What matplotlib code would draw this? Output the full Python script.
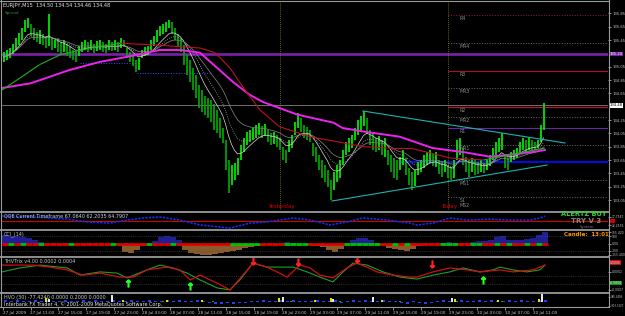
import numpy as np
import pandas as pd
import matplotlib
matplotlib.use('Agg')
import matplotlib.pyplot as plt
from matplotlib.lines import Line2D
from matplotlib.collections import LineCollection

W, H = 625, 316

# EURJPY M15 - bar highs / lows (one bar per 3px slot, from 27 Jul 07:00)
bar_high = [135.27, 135.30, 135.33, 135.39, 135.48, 135.56, 135.63, 135.75, 135.78, 135.69,
            135.63, 135.57, 135.60, 135.54, 135.51, 135.84, 135.48, 135.45, 135.48, 135.42,
            135.45, 135.39, 135.36, 135.30, 135.27, 135.36, 135.42, 135.45, 135.42, 135.45,
            135.39, 135.44, 135.45, 135.42, 135.39, 135.45, 135.42, 135.45, 135.42, 135.48,
            135.45, 135.33, 135.27, 135.21, 135.15, 135.18, 135.30, 135.35, 135.36, 135.45,
            135.51, 135.60, 135.66, 135.69, 135.72, 135.75, 135.72, 135.63, 135.54, 135.48,
            135.38, 135.23, 135.15, 135.03, 134.93, 134.78, 134.70, 134.61, 134.58, 134.55,
            134.49, 134.40, 134.28, 134.13, 133.95, 133.65, 133.58, 133.61, 133.68, 133.88,
            133.98, 134.07, 134.10, 134.13, 134.18, 134.21, 134.16, 134.19, 134.10, 134.06,
            134.07, 134.03, 133.98, 133.85, 133.80, 133.95, 134.03, 134.22, 134.36, 134.28,
            134.18, 134.15, 134.10, 133.91, 133.85, 133.73, 133.65, 133.58, 133.50, 133.35,
            133.47, 133.58, 133.65, 133.80, 133.92, 133.98, 134.03, 134.13, 134.25, 134.31,
            134.39, 134.28, 134.10, 134.06, 133.98, 134.01, 133.95, 133.98, 133.80, 133.73,
            133.68, 133.65, 133.70, 133.80, 133.68, 133.53, 133.47, 133.50, 133.62, 133.65,
            133.73, 133.77, 133.80, 133.74, 133.77, 133.65, 133.62, 133.65, 133.58, 133.55,
            133.65, 133.95, 133.98, 133.83, 133.70, 133.65, 133.68, 133.65, 133.62, 133.65,
            133.61, 133.65, 133.73, 133.83, 133.92, 133.98, 134.06, 133.73, 133.68, 133.77,
            133.80, 133.83, 133.92, 133.98, 133.95, 134.00, 133.95, 133.92, 133.95, 134.18,
            134.51]
bar_low = [135.12, 135.15, 135.18, 135.24, 135.30, 135.38, 135.45, 135.57, 135.63, 135.51,
           135.45, 135.42, 135.39, 135.38, 135.33, 135.36, 135.30, 135.33, 135.27, 135.23,
           135.27, 135.21, 135.18, 135.15, 135.12, 135.21, 135.27, 135.30, 135.27, 135.30,
           135.26, 135.29, 135.30, 135.27, 135.26, 135.30, 135.29, 135.30, 135.27, 135.33,
           135.35, 135.18, 135.12, 135.06, 134.97, 135.00, 135.18, 135.21, 135.23, 135.30,
           135.36, 135.42, 135.51, 135.54, 135.57, 135.63, 135.54, 135.45, 135.36, 135.27,
           135.08, 134.93, 134.82, 134.70, 134.58, 134.43, 134.37, 134.33, 134.28, 134.22,
           134.10, 134.06, 133.98, 133.91, 133.50, 133.16, 133.28, 133.35, 133.43, 133.65,
           133.77, 133.88, 133.92, 133.95, 133.98, 134.03, 133.98, 134.01, 133.92, 133.88,
           133.89, 133.85, 133.80, 133.65, 133.61, 133.77, 133.83, 134.03, 134.13, 134.07,
           133.98, 133.95, 133.92, 133.71, 133.62, 133.50, 133.38, 133.32, 133.25, 133.05,
           133.20, 133.32, 133.38, 133.58, 133.73, 133.77, 133.83, 133.95, 134.03, 134.10,
           134.16, 134.04, 133.88, 133.80, 133.77, 133.80, 133.73, 133.70, 133.58, 133.47,
           133.38, 133.35, 133.50, 133.58, 133.43, 133.28, 133.20, 133.26, 133.43, 133.47,
           133.53, 133.58, 133.61, 133.56, 133.55, 133.44, 133.40, 133.47, 133.38, 133.35,
           133.38, 133.65, 133.73, 133.58, 133.47, 133.40, 133.47, 133.43, 133.44, 133.47,
           133.46, 133.50, 133.56, 133.65, 133.73, 133.77, 133.80, 133.53, 133.50, 133.62,
           133.65, 133.68, 133.76, 133.80, 133.77, 133.80, 133.80, 133.80, 133.83, 133.92,
           134.10]

# slow MA (magenta) and slope coloured MA
ma_slow_idx = [-0.5, 9, 22, 32, 45, 52, 59, 65.5, 76.5, 82, 86.5, 98, 110, 113, 121, 132, 143, 154.5, 162, 169, 176.5, 180.5]
ma_slow = [134.73, 134.80, 135.00, 135.12, 135.23, 135.30, 135.30, 135.26, 134.82, 134.63, 134.52, 134.33,
           134.21, 134.13, 134.07, 134.00, 133.83, 133.76, 133.70, 133.73, 133.77, 133.80]
ma_mid_idx = [-0.5, 5.5, 12, 19, 29, 39, 49, 59, 65.5, 70.5, 75.5, 80.5, 85.5, 92, 102, 113, 120, 128, 135.5, 149, 160, 169, 180.5]
ma_mid = [134.70, 134.88, 135.08, 135.23, 135.33, 135.40, 135.38, 135.35, 135.33, 135.26, 135.03, 134.70,
          134.40, 134.15, 134.00, 133.91, 133.85, 133.83, 133.83, 133.68, 133.65, 133.73, 133.83]

# today's pivot levels
pivot_names = ['R4', 'MR4', 'R3', 'MR3', 'R2', 'MR2', 'R1', 'MR1', 'MS1', 'S1']
pivot_levels = [135.825, 135.405, 134.985, 134.73, 134.45, 134.295, 134.13, 133.875, 133.35, 133.095]
pivot_colors = ['#9a1545', '#6a6a6a', '#b01030', '#6a6a6a', '#c01030', '#6a6a6a', '#6a22a8', '#6a6a6a', '#6a6a6a', '#6a6a6a']
pivot_styles = [':', ':', '-', ':', '-', ':', '-', ':', ':', ':']
pivot_point = 133.62
hline_level = 135.24
last_price = 134.47

# triangle trendlines (bar index, price)
tri_upper = ([119.8, 187.2], [134.385, 133.905])
tri_lower = ([109.5, 181.2], [133.035, 133.575])

# QQE
qqe_idx = [-0.5, 9.8, 21.2, 27.8, 35.5, 41.2, 46.5, 52.2, 58.8, 65.5, 75.5, 82.2, 87.8, 96.5, 102.2,
           108.8, 114.5, 119.8, 127.8, 135.5, 137.8, 143.2, 148.8, 154.5, 162.2, 168.8, 175.5, 178.8, 180.5]
qqe = [81, 75, 62, 44, 37, 56, 69, 75, 56, 25, 6, 37, 44, 69, 56, 25, 44, 69, 56, 37, 25, 37, 69, 56, 62, 56, 56, 69, 81]

# CCI, one value per 2 bars, plus trend band colour
cci = [115, 100, 100, 90, 75, 50, 20,
       0, -10, 0, 10, 0, -20, 0, 10, 0, -10, 0, 0, -15,
       -115, -130, -90, -40, 0, 30, 90, 100, 90, 50,
       -90, -130, -140, -155, -155, -140, -130, -115, -100, -90,
       -60, -50, -35, -20, -10, 0, 10, 20, 10, 0, -10,
       -20, -30, -50, -90, -115, -75, -20, 50, 75, 75, 50, 10,
       -20, -60, -75, -90, -100, -75, -40, -20, -10, 0,
       10, 20, 10, 0, -10, 20, 30, 40, 50,
       90, 100, 50, 50, 50, 60, 75, 115, 155]
cci_trend = ''.join(['rgrgrrg', 'rrrrgrrrrrrgr', 'rrr', 'rgr', 'rrgr', 'rrrrr', 'rrrgg', 'ggg', 'rrrr',
                     'gggg', 'rrrrrr', 'gggggg', 'rr', 'grgr', 'rrrr', 'ggg', 'rr', 'gg', 'rr', 'grgrrgrgr'])

# THV Trix lines (units of 0.0001)
trix_red_idx = [-0.5, 9.8, 15.5, 21.2, 26.5, 32.2, 38.8, 43.2, 47.8, 54.5, 58.8, 62.2, 65.5, 71.2, 75.5,
                79.8, 83.2, 87.8, 91.2, 94.5, 98.8, 102.2, 105.5, 109.8, 114.5, 117.8, 121.2, 124.5, 129.8,
                135.5, 137.8, 143.2, 148.8, 154.5, 158.8, 165.5, 169.8, 176.5, 180.5]
trix_red = [5.2, 5.2, 4.2, 2.8, 0.2, 1.2, -0.8, -0.8, 2.8, 4.2, 2.8, -2.2, 0.2, -3.8, -7.2, 0.2, 6.2, 4.2,
            1.8, -0.8, 5.2, 3.8, 0.2, -1.2, 3.8, 6.2, 4.2, 1.8, 0.2, -0.8, -0.8, 1.8, 3.8, 2.8, 1.8, 2.8,
            1.8, 2.8, 5.2]
trix_green_idx = [-0.5, 5.5, 12.2, 21.2, 25.5, 32.2, 37.8, 41.2, 47.8, 52.2, 56.5, 61.2, 65.5, 71.2, 75.5,
                  78.8, 83.2, 87.8, 92.2, 96.5, 101.2, 105.5, 109.8, 113.2, 116.5, 121.2, 126.5, 132.2,
                  137.8, 143.2, 148.8, 153.2, 158.8, 163.2, 165.5, 169.8, 174.5, 178.8, 180.5]
trix_green = [1.8, 3.8, 5.2, 3.8, 0.2, 1.8, 1.2, -1.2, 2.8, 5.2, 3.8, 1.2, -2.2, -6.2, -7.2, -2.2, 6.2, 4.2,
              4.2, 4.2, 1.8, -0.8, -3.2, 1.8, 6.2, 5.2, 1.8, -0.8, -1.8, 0.2, 1.8, 3.8, 1.8, 2.8, 4.2, 2.8,
              1.8, 2.8, 5.2]
arrow_up_idx = [41.5, 62.2, 159.8]
arrow_up_val = [-3.6, -5.2, -2.2]
arrow_dn_idx = [83.2, 98.2, 117.8, 142.8]
arrow_dn_val = [7.4, 6.6, 8.2, 6.0]

# HVO histogram, one value per 2 bars, plus coloured spikes
hvo_blue = [150, 75, 150, 75, 75, 150, 75, 150, 75, 75, 150, 75, 75, 150, 75, 150, 75, 75, 150, 75,
            75, 150, 75, 75, 150, 75, 75, 150, 75, 150, 75, 75, 150, 75, -75, -150, -150, -75, -150, -75,
            -75, 75, 75, 150, 75, 75, 150, 75, 150, 75, 75, 75, 150, 75, 75, 150, -75, 75, 150, 75,
            150, 75, 75, 150, 75, 75, -75, -150, 75, -75, -150, -75, 75, 150, 75, 75, 150, 75, 75, 150,
            75, 150, 75, 75, 150, 75, 150, 75, 75, 150, 150]
spike_idx = [14.2, 15.2, 36.2, 39.8, 53.2, 54.5, 66.2, 69.8, 91.8, 93.2, 95.8, 103.8, 109.2, 109.8, 112.2,
             123.2, 126.2, 132.2, 149.5, 150.5, 151.2, 164.8, 166.2, 178.5, 179.5]
spike_val = [300, 225, 525, 150, 75, 150, 150, 75, 300, 375, 75, 150, 300, 225, 75,
             375, 150, 75, 300, 225, 75, 150, 75, 225, 600]
spike_col = ['y', 'w', 'w', 'y', 'g', 'y', 'y', 'g', 'y', 'w', 'g', 'y', 'y', 'w', 'g',
             'w', 'y', 'g', 'w', 'y', 'g', 'y', 'g', 'y', 'w']

time_labels = ['27 Jul 2009', '27 Jul 11:00', '27 Jul 15:00', '27 Jul 19:00', '27 Jul 23:00',
               '28 Jul 03:00', '28 Jul 07:00', '28 Jul 11:00', '28 Jul 15:00', '28 Jul 19:00',
               '28 Jul 23:00', '29 Jul 03:00', '29 Jul 07:00', '29 Jul 11:00', '29 Jul 15:00',
               '29 Jul 19:00', '29 Jul 23:00', '30 Jul 03:00', '30 Jul 07:00', '30 Jul 11:00']

yesterday_idx = 92.2
today_idx = 148.2

fig = plt.figure(figsize=(W / 100, H / 100), dpi=100, facecolor='black')
AXFS = 2.7  # right-hand scale font size
SUBFS = 2.15  # long sub-window scale labels


def panel(y0, y1):
    ax = fig.add_axes([2 / W, 1 - y1 / H, 606 / W, (y1 - y0) / H])
    ax.set_facecolor('black')
    for s in ax.spines.values():
        s.set_visible(False)
    ax.set_xlim(-0.5, 201.5)
    ax.set_xticks([])
    ax.yaxis.tick_right()
    ax.tick_params(axis='y', colors='#c8c8c8', labelsize=AXFS, length=2, width=0.5, pad=1)
    return ax


def ptext(x, y, s, **kw):
    kw.setdefault('color', '#d0d0d0')
    kw.setdefault('fontsize', 3.8)
    kw.setdefault('va', 'center')
    kw.setdefault('ha', 'left')
    fig.text(x / W, 1 - y / H, s, **kw)


def pline(xs, ys, **kw):
    fig.add_artist(Line2D([x / W for x in xs], [1 - y / H for y in ys], **kw))


def box(ax, yv, s, fc, tc='white', fs=AXFS):
    ax.text(1.003, yv, s, transform=ax.get_yaxis_transform(), color=tc, fontsize=fs,
            va='center', ha='left', bbox=dict(boxstyle='square,pad=0.12', fc=fc, ec='none'))


# ---------------- main price panel ----------------
ax = panel(2, 210)
ax.set_ylim(132.90, 136.02)
idx = np.arange(len(bar_high))
hi = np.array(bar_high)
lo = np.array(bar_low)
mid = (hi + lo) / 2

ax.axhline(hline_level, color='#7a22a8', lw=1.9, zorder=1)
ax.axhline(last_price, color='#808080', lw=0.6, zorder=1)
ax.hlines([135.11], 25.5, 43.8, color='#3050ff', lw=0.7, linestyles=':', zorder=1)
ax.hlines([134.955], 44.5, 68.8, color='#3050ff', lw=0.7, linestyles=':', zorder=1)
for lvl, name, c, ls in zip(pivot_levels, pivot_names, pivot_colors, pivot_styles):
    ax.hlines(lvl, today_idx, 201.5, color=c, lw=0.8 if ls == '-' else 0.7, linestyles=ls, zorder=1)
    ax.text(152, lvl - 0.02, name, color='#8c8c8c', fontsize=3.4, va='top', ha='left', zorder=6)
ax.text(152, 132.97, 'MS2', color='#8c8c8c', fontsize=3.4, va='center', ha='left', zorder=6)
ax.hlines(pivot_point, 132.2, 201.5, color='#0010d0', lw=1.6, zorder=1)
for xv in (yesterday_idx, today_idx):
    ax.axvline(xv, color='#8a8a2a', lw=0.6, ls=(0, (1, 1.5)), zorder=1)

cols = ['#00f000' if m >= p else '#00a800' for m, p in zip(mid, np.roll(mid, 1))]
ax.vlines(idx, lo, hi, colors=cols, lw=1.25, zorder=3)

s = pd.Series(mid)
ax.plot(idx, s.ewm(span=8).mean(), color='#dcdcdc', lw=0.5, zorder=4)
ax.plot(idx, s.ewm(span=13).mean(), color='#a8a8a8', lw=0.6, ls=':', zorder=4)
ax.plot(idx, s.ewm(span=21).mean(), color='#8a8a8a', lw=0.5, zorder=4)
ax.plot(ma_slow_idx, ma_slow, color='#ee22ee', lw=1.4, zorder=4)
pts = np.column_stack([ma_mid_idx, ma_mid])
segs = np.stack([pts[:-1], pts[1:]], axis=1)
seg_cols = ['#20b020' if b > a else '#c01020' for a, b in zip(ma_mid[:-1], ma_mid[1:])]
ax.add_collection(LineCollection(segs, colors=seg_cols, linewidths=0.8, zorder=4))
ax.plot(*tri_upper, color='#20b0b0', lw=0.8, zorder=5)
ax.plot(*tri_lower, color='#20b0b0', lw=0.8, zorder=5)

ticks = [135.85, 135.65, 135.45, 135.05, 134.85, 134.65, 134.25, 134.05, 133.85, 133.65, 133.45, 133.25, 133.05]
ax.set_yticks(ticks)
ax.set_yticklabels(['%.2f' % t for t in ticks])
box(ax, hline_level, '%.2f' % hline_level, '#7a22a8')
box(ax, last_price, '134.48', 'white', 'black')

# ---------------- QQE ----------------
aq = panel(213, 229)
aq.set_ylim(0, 100)
aq.axhline(50, color='#d00000', lw=0.8)
aq.plot(qqe_idx, qqe, color='#1030ff', lw=1.1, ls=(0, (1.5, 0.8)))
aq.set_yticks([77.7547, 22.2576])
aq.set_yticklabels(['77.7547', '22.2576'])
aq.tick_params(axis='y', labelsize=SUBFS, pad=0.6)
box(aq, 50, '50', '#d00000', '#d00000')

# ---------------- CCI ----------------
ac = panel(231, 256)
ac.set_ylim(-170, 170)
cx = np.arange(len(cci)) * 2 + 0.5
cci_a = np.array(cci)
ac.bar(cx, cci_a, width=2, color=np.where(cci_a > 0, '#1e1e96', '#8b5a2b'), lw=0)
for lvl in (100, -100):
    ac.axhline(lvl, color='#505050', lw=0.5, ls=':')
for c, st in enumerate(cci_trend):
    ac.hlines(0, 2 * c - 0.5, 2 * c + 1.5, color='#e00000' if st == 'r' else '#00c000', lw=2.0)
ac.set_yticks([155.42, 100, 0, -100, -155.4])
ac.set_yticklabels(['155.420', '100', '0.00', '-100', '-155.400'])
ac.tick_params(axis='y', labelsize=SUBFS, pad=0.6)

# ---------------- THV Trix ----------------
at = panel(258, 293)
at.set_ylim(-8.75, 8.75)
at.axhline(0, color='#505050', lw=0.5, ls=':')
at.axhline(-4, color='#505050', lw=0.5, ls=':')
at.plot(trix_green_idx, trix_green, color='#20a020', lw=0.8)
at.plot(trix_red_idx, trix_red, color='#d01010', lw=0.9)
at.plot(arrow_up_idx, arrow_up_val, ls='none', marker=r'$\uparrow$', color='#20ff20', ms=5)
at.plot(arrow_dn_idx, arrow_dn_val, ls='none', marker=r'$\downarrow$', color='#ff2020', ms=5)
at.set_yticks([2, -7])
at.set_yticklabels(['0.0002', '-0.0007'])
at.tick_params(axis='y', labelsize=SUBFS, pad=0.6)
box(at, 6.5, '0.0006', '#c01010', fs=SUBFS)
box(at, -3.8, '-0.0004', '#109010', fs=SUBFS)

# ---------------- HVO ----------------
av = panel(294, 307)
av.set_ylim(-385, 616)
av.bar(np.arange(len(hvo_blue)) * 2 + 0.5, hvo_blue, width=1.0, color='#2040ff', lw=0)
cmap = {'y': '#e8e000', 'w': '#e8e8e8', 'g': '#00c000'}
av.bar(spike_idx, spike_val, width=0.8, color=[cmap[c] for c in spike_col], lw=0)
av.set_yticks([385.35, -303.33])
av.set_yticklabels(['385.3495', '-303.3327'])
av.tick_params(axis='y', labelsize=1.9, pad=0.5, length=1.5)
av.set_xticks([-0.3 + 9.3 * k for k in range(len(time_labels))])
av.set_xticklabels(time_labels)
av.tick_params(axis='x', colors='#c8c8c8', labelsize=3.0, length=2, width=0.5, pad=1)
for lb in av.get_xticklabels():
    lb.set_ha('left')

# ---------------- frame / separators ----------------
for yy in (1, 211.5, 230, 257, 293.3, 307):
    pline([0, 609], [yy, yy], color='#9a9a9a', lw=1.3 if yy not in (1, 307) else 0.8)
pline([608.5, 608.5], [0, 307], color='#9a9a9a', lw=0.8)
pline([1, 1], [0, 307], color='#9a9a9a', lw=0.8)

# ---------------- texts ----------------
ptext(3, 5.5, 'EURJPY,M15  134.50 134.54 134.46 134.48', color='#e8e8e8', fontsize=3.6)
ptext(5, 13, 'Spread', color='#1f8f3f', fontsize=3)
ptext(268, 206.5, 'Yesterday', color='#e00000', fontsize=4)
ptext(441, 206.5, 'Today', color='#e00000', fontsize=4)
ptext(4, 216.5, 'QQE Current Timeframe 67.0640 62.2035 64.7907', color='#c8d0e8', fontsize=3.5)
ptext(4, 234.5, 'CCI_(14)', color='#c8c8c8', fontsize=3.5)
ptext(4, 261.5, 'THVTrix v4.00 0.0002 0.0004', color='#c8c8c8', fontsize=3.5)
ptext(4, 297.5, 'HVO (30) -77.4240 0.0000 0.2000 0.0000', color='#c8c8c8', fontsize=3.5)
ptext(4, 303.8, 'Interbank FX Trader 4, \u00a9 2001-2009 MetaQuotes Software Corp.', color='#e8e8e8', fontsize=3.5)
ptext(561, 213.8, 'ALERTZ BUY', color='#30d030', fontsize=4.8, fontweight='bold')
ptext(571, 221.3, 'TRY V 3', color='#8a8a7a', fontsize=5.0, fontweight='bold')
ptext(580, 227.2, 'System', color='#707070', fontsize=2.8)
ptext(564, 234.5, 'Candle:  13:01', color='#ff9900', fontsize=4.0, fontweight='bold')

fig.savefig('out.png', dpi=100, facecolor='black')
